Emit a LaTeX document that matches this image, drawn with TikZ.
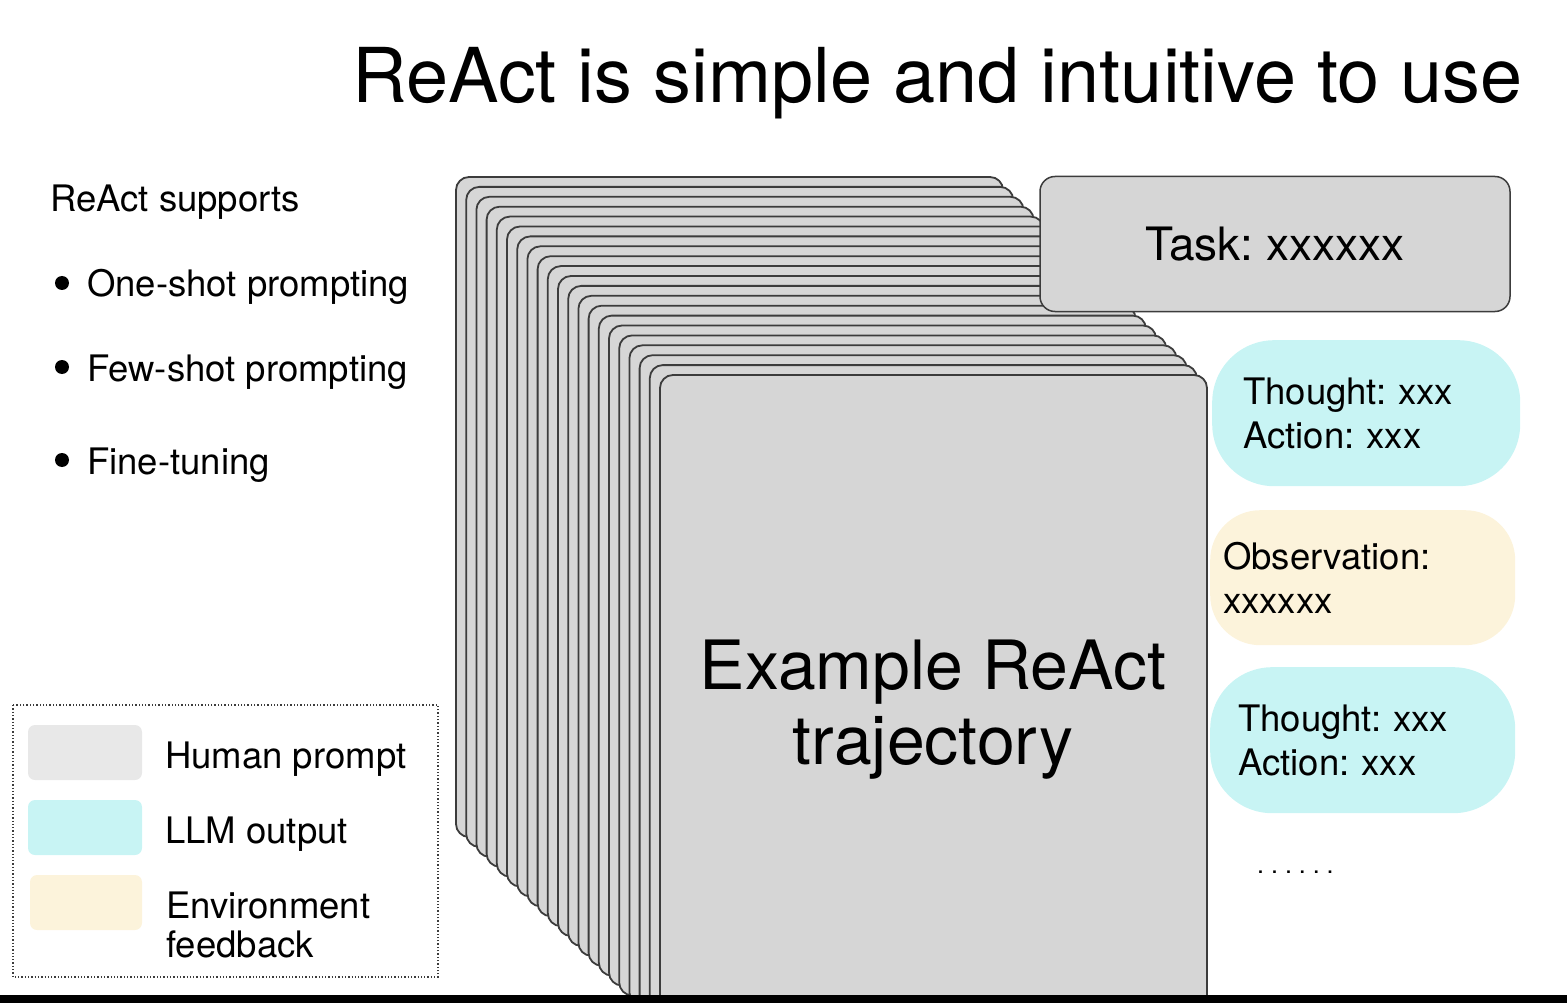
\documentclass[tikz,border=0pt]{standalone}
\usepackage{fontspec}
\setmainfont{TeX Gyre Heros}
\definecolor{cardgray}{HTML}{D6D6D6}
\definecolor{edgegray}{HTML}{3C3C3C}
\definecolor{humangray}{HTML}{E8E8E8}
\definecolor{llmcyan}{HTML}{C8F4F4}
\definecolor{envcream}{HTML}{FCF3DB}
\frenchspacing
\begin{document}
\begin{tikzpicture}[x=1pt, y=-1pt,
    card/.style={fill=cardgray, draw=edgegray, line width=1.8pt, rounded corners=13pt},
    txt/.style={inner sep=0pt, font=\fontsize{36.5}{44}\selectfont},
    bubble/.style={txt, rounded corners=62pt, align=left, minimum height=146pt},
    swatch/.style={rounded corners=7pt}]
  \useasboundingbox (0,0) rectangle (1567,1003);
  % Title
  \node[anchor=base west, inner sep=0pt, font=\fontsize{75.7}{90}\selectfont] (title) at (352,103)
    {ReAct is simple and intuitive to use};
  % ReAct supports
  \node[txt, anchor=base west] (supports) at (50,212) {ReAct supports};
  \node[txt, anchor=base west] (oneshot) at (87,297) {One-shot prompting};
  \node[txt, anchor=base west] (fewshot) at (87,381) {Few-shot prompting};
  \node[txt, anchor=base west] (finetune) at (87,474) {Fine-tuning};
  \fill (62,283) circle (7);
  \fill (62,367) circle (7);
  \fill (62,460) circle (7);
  % Legend
  \draw[edgegray, dotted, line width=1.3pt] (13,705) rectangle (438,977);
  \fill[humangray, swatch] (28,725) rectangle (142,780);
  \fill[llmcyan, swatch] (28,800) rectangle (142,855);
  \fill[envcream, swatch] (30,875) rectangle (142,930);
  \node[txt, anchor=base west] (human) at (165,768) {Human prompt};
  \node[txt, anchor=base west] (llm) at (165,843) {LLM output};
  \node[txt, anchor=west, align=left, font=\fontsize{36.5}{39}\selectfont] (env) at (166,925)
    {Environment\\feedback};
  % Stack of cards
  \begin{scope}
    \clip (0,0) rectangle (1567,995);
    \foreach \i in {0,...,20}
      \draw[card] (456+10.2*\i,177+9.9*\i) rectangle ++(547,660);
  \end{scope}
  \node[align=center, inner sep=0pt, font=\fontsize{68}{75}\selectfont] (traj) at (933,710)
    {Example ReAct\\trajectory};
  % Task
  \node[fill=cardgray, draw=edgegray, line width=1.5pt, rounded corners=15pt,
    minimum width=470pt, minimum height=135pt, font=\fontsize{46}{55}\selectfont] (task) at (1275,244)
    {Task: xxxxxx};
  % Trajectory steps
  \node[bubble, fill=llmcyan, anchor=north west, inner xsep=31pt, text width=246pt] (act1) at (1212,340)
    {Thought: xxx\\Action: xxx};
  \node[bubble, fill=envcream, anchor=north west, inner xsep=13pt, text width=279pt,
    minimum height=135pt, rounded corners=50pt] (obs) at (1210,510)
    {Observation:\\xxxxxx};
  \node[bubble, fill=llmcyan, anchor=north west, inner xsep=28pt, text width=249pt] (act2) at (1210,667)
    {Thought: xxx\\Action: xxx};
  \node[anchor=base west, inner sep=0pt, font=\fontsize{25}{30}\selectfont] (more) at (1257,873)
    {. . . . . .};
  % Bottom bar
  \fill (0,995) rectangle (1567,1003);
\end{tikzpicture}
\end{document}
